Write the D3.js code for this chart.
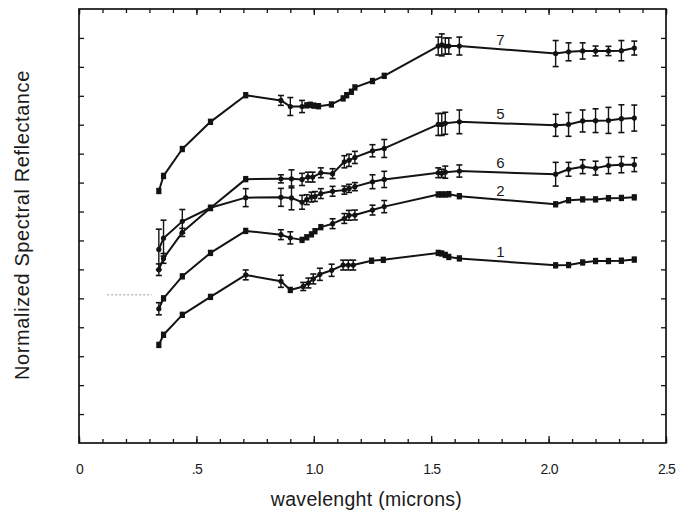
<!DOCTYPE html>
<html><head><meta charset="utf-8">
<script src="https://cdn.jsdelivr.net/npm/d3@7"></script>
<style>
body{margin:0;background:#fff}
svg{display:block}
text{font-family:"Liberation Sans",Arial,Helvetica,sans-serif;fill:#1a1a1a}
</style>
</head><body>
<svg id="c" width="691" height="523"></svg>
<script>
// ---- axis / tick data ----
const xTickValues = [0, 0.5, 1.0, 1.5, 2.0, 2.5];
const xTickLabels = ["0", ".5", "1.0", "1.5", "2.0", "2.5"];
const xTitle = "wavelenght (microns)";
const yTitle = "Normalized Spectral Reflectance";

// ---- series 7 ----
const wl7 = [0.34,0.36,0.44,0.56,0.71, 0.86,0.90,0.95,0.97,0.985,1.0,1.02,1.075,1.125,1.14,1.16,1.175,1.25,1.30, 1.53,1.545,1.56,1.575,1.62, 2.03,2.085,2.145,2.2,2.255,2.31,2.365];
const r7  = [0.871,0.923,1.016,1.110,1.202, 1.184,1.163,1.163,1.167,1.169,1.166,1.164,1.170,1.191,1.202,1.214,1.229,1.251,1.269, 1.372,1.376,1.372,1.372,1.372, 1.346,1.352,1.355,1.355,1.355,1.356,1.365];
const e7  = [0,0,0,0,0, 0.017,0.031,0.021,0,0,0,0,0,0,0,0,0,0,0, 0.031,0.038,0.028,0.028,0.031, 0.045,0.031,0.028,0.017,0.016,0.035,0.024];

// ---- series 5 ----
const wl5 = [0.34,0.36,0.44,0.56,0.71, 0.86,0.905,0.95,0.975,0.995,1.03,1.08,1.13,1.15,1.175,1.25,1.30, 1.53,1.545,1.56,1.62, 2.03,2.085,2.145,2.2,2.255,2.31,2.365];
const r5  = [0.599,0.638,0.728,0.812,0.912, 0.913,0.913,0.911,0.919,0.919,0.934,0.931,0.972,0.977,0.987,1.010,1.018, 1.101,1.101,1.105,1.110, 1.098,1.101,1.113,1.114,1.115,1.121,1.123];
const e5  = [0.02,0.017,0.014,0,0, 0.014,0.031,0.021,0.017,0.017,0.017,0.017,0.021,0.021,0.021,0.021,0.031, 0.038,0.038,0.038,0.041, 0.038,0.041,0.038,0.041,0.045,0.048,0.045];

// ---- series 6 ----
const wl6 = [0.34,0.36,0.44,0.56,0.71, 0.86,0.905,0.95,0.97,0.99,1.005,1.03,1.08,1.13,1.15,1.175,1.25,1.30, 1.53,1.545,1.56,1.62, 2.03,2.085,2.145,2.2,2.255,2.31,2.365];
const r6  = [0.669,0.708,0.766,0.813,0.848, 0.849,0.847,0.832,0.841,0.850,0.852,0.862,0.870,0.874,0.880,0.886,0.903,0.911, 0.934,0.932,0.936,0.940, 0.929,0.946,0.955,0.950,0.959,0.962,0.962];
const e6  = [0.07,0.062,0.041,0,0.031, 0.031,0.041,0.024,0.017,0.017,0.017,0.017,0.017,0.014,0.014,0.014,0.024,0.028, 0.017,0.014,0.021,0.021, 0.041,0.024,0.024,0.024,0.028,0.028,0.024];

// ---- series 2 ----
const wl2 = [0.34,0.36,0.44,0.56,0.71, 0.86,0.90,0.95,0.97,0.99,1.005,1.03,1.08,1.13,1.15,1.175,1.25,1.30, 1.53,1.545,1.56,1.575,1.62, 2.03,2.085,2.145,2.2,2.255,2.31,2.365];
const r2  = [0.464,0.500,0.576,0.657,0.733, 0.720,0.709,0.702,0.711,0.721,0.732,0.746,0.758,0.776,0.787,0.788,0.805,0.817, 0.859,0.859,0.859,0.860,0.853, 0.825,0.839,0.842,0.842,0.846,0.847,0.849];
const e2  = [0.021,0,0,0,0, 0.017,0.021,0,0,0,0,0,0.017,0.017,0.017,0.017,0.017,0.021, 0,0,0,0,0, 0,0,0,0,0,0,0];

// ---- series 1 ----
const wl1 = [0.34,0.36,0.44,0.56,0.71, 0.86,0.90,0.955,0.977,0.998,1.026,1.076,1.125,1.147,1.168,1.246,1.296, 1.53,1.545,1.56,1.575,1.62, 2.03,2.085,2.145,2.2,2.255,2.31,2.365];
const r1  = [0.339,0.374,0.443,0.505,0.581, 0.559,0.529,0.541,0.553,0.567,0.583,0.597,0.615,0.615,0.615,0.630,0.633, 0.657,0.655,0.650,0.643,0.638, 0.614,0.615,0.624,0.629,0.629,0.630,0.634];
const e1  = [0,0,0,0,0.017, 0.021,0,0.014,0.017,0.017,0.021,0.021,0.017,0.017,0.017,0,0, 0,0,0,0,0, 0,0,0,0,0,0,0];

const seriesLabels = ["7","5","6","2","1"];
const labelWavelength = 1.795;

// faint scan mark left of the curves
const scanMarkX = [0.12, 0.31];
const scanMarkY = 0.512;

// ---- build ----
const W = 691, H = 523;
const M = {left: 79, right: 25, top: 9, bottom: 80};
const svg = d3.select("#c");
const x = d3.scaleLinear().domain([0, 2.5]).range([M.left, W - M.right]);
const y = d3.scaleLinear().domain([0, 1.5]).range([H - M.bottom, M.top]);
const ink = "#131313";

const series = [
  {name: seriesLabels[0], w: wl7, r: r7, e: e7},
  {name: seriesLabels[1], w: wl5, r: r5, e: e5},
  {name: seriesLabels[2], w: wl6, r: r6, e: e6},
  {name: seriesLabels[3], w: wl2, r: r2, e: e2},
  {name: seriesLabels[4], w: wl1, r: r1, e: e1}
].map(s => ({name: s.name, pts: s.w.map((w, i) => ({w, r: s.r[i], e: s.e[i]}))}));

// ticks
const minorX = d3.range(0, 26).map(i => i / 10);
const minorY = d3.range(1, 15).map(i => i / 10);
function styleAxis(g) {
  g.select(".domain").remove();
  g.selectAll(".tick line").attr("stroke", ink).attr("stroke-width", 1.3);
  g.selectAll(".tick text").remove();
}
svg.append("g").attr("transform", `translate(0,${y(0)})`)
  .call(d3.axisBottom(x).tickValues(minorX).tickSize(-4)).call(styleAxis);
svg.append("g").attr("transform", `translate(0,${y(0)})`)
  .call(d3.axisBottom(x).tickValues(xTickValues).tickSize(-7)).call(styleAxis);
svg.append("g").attr("transform", `translate(0,${y(1.5)})`)
  .call(d3.axisTop(x).tickValues(minorX).tickSize(-4)).call(styleAxis);
svg.append("g").attr("transform", `translate(0,${y(1.5)})`)
  .call(d3.axisTop(x).tickValues(xTickValues).tickSize(-6)).call(styleAxis);
svg.append("g").attr("transform", `translate(${x(0)},0)`)
  .call(d3.axisLeft(y).tickValues(minorY).tickSize(-5)).call(styleAxis);
svg.append("g").attr("transform", `translate(${x(2.5)},0)`)
  .call(d3.axisRight(y).tickValues(minorY).tickSize(-5)).call(styleAxis);

// tick labels
const lab = svg.append("g").attr("transform", `translate(0,${y(0)})`)
  .call(d3.axisBottom(x).tickValues(xTickValues).tickSize(0).tickPadding(21)
    .tickFormat((d, i) => xTickLabels[i]));
lab.select(".domain").remove();
lab.selectAll("text").attr("font-size", 14).attr("letter-spacing", -0.8)
  .attr("font-family", '"Liberation Sans",Arial,sans-serif').attr("fill", "#1a1a1a");

// frame
svg.append("rect").attr("x", x(0)).attr("y", y(1.5))
  .attr("width", x(2.5) - x(0)).attr("height", y(0) - y(1.5))
  .attr("fill", "none").attr("stroke", ink).attr("stroke-width", 1.7);

// scan mark
svg.append("line").attr("x1", x(scanMarkX[0])).attr("x2", x(scanMarkX[1]))
  .attr("y1", y(scanMarkY)).attr("y2", y(scanMarkY))
  .attr("stroke", "#9a9a9a").attr("stroke-width", 1).attr("stroke-dasharray", "2,2");

// lines
const line = d3.line().x(d => x(d.w)).y(d => y(d.r));
const sg = svg.append("g");
series.forEach(s => {
  sg.append("path").datum(s.pts).attr("d", line)
    .attr("fill", "none").attr("stroke", ink).attr("stroke-width", 2)
    .attr("stroke-linejoin", "round");
  const g = sg.append("g");
  s.pts.forEach(p => {
    const cx = x(p.w), cy = y(p.r);
    if (p.e > 0) {
      const y1 = y(p.r + p.e), y2 = y(p.r - p.e);
      g.append("line").attr("x1", cx).attr("x2", cx).attr("y1", y1).attr("y2", y2)
        .attr("stroke", ink).attr("stroke-width", 1.4);
      [y1, y2].forEach(yy => g.append("line").attr("x1", cx - 3).attr("x2", cx + 3)
        .attr("y1", yy).attr("y2", yy).attr("stroke", ink).attr("stroke-width", 1.6));
      g.append("circle").attr("cx", cx).attr("cy", cy).attr("r", 2.6).attr("fill", ink);
    } else {
      g.append("rect").attr("x", cx - 2.6).attr("y", cy - 3.2).attr("width", 5.2).attr("height", 6.4)
        .attr("fill", ink);
    }
  });
  // label
  const pts = s.pts;
  let k = pts.findIndex(p => p.w > labelWavelength);
  const a = pts[k - 1], b = pts[k];
  const rv = a.r + (b.r - a.r) * (labelWavelength - a.w) / (b.w - a.w);
  sg.append("text").attr("x", x(labelWavelength)).attr("y", y(rv) - 4)
    .attr("text-anchor", "middle").attr("font-size", 15).text(s.name);
});

// titles
svg.append("text").attr("x", (x(0) + x(2.5)) / 2 - 6).attr("y", 506)
  .attr("text-anchor", "middle").attr("font-size", 19.5).attr("letter-spacing", 0.3).text(xTitle);
svg.append("text").attr("transform", `translate(29,${225}) rotate(-90)`)
  .attr("text-anchor", "middle").attr("font-size", 20).attr("letter-spacing", 0.6).text(yTitle);
</script>
</body></html>
